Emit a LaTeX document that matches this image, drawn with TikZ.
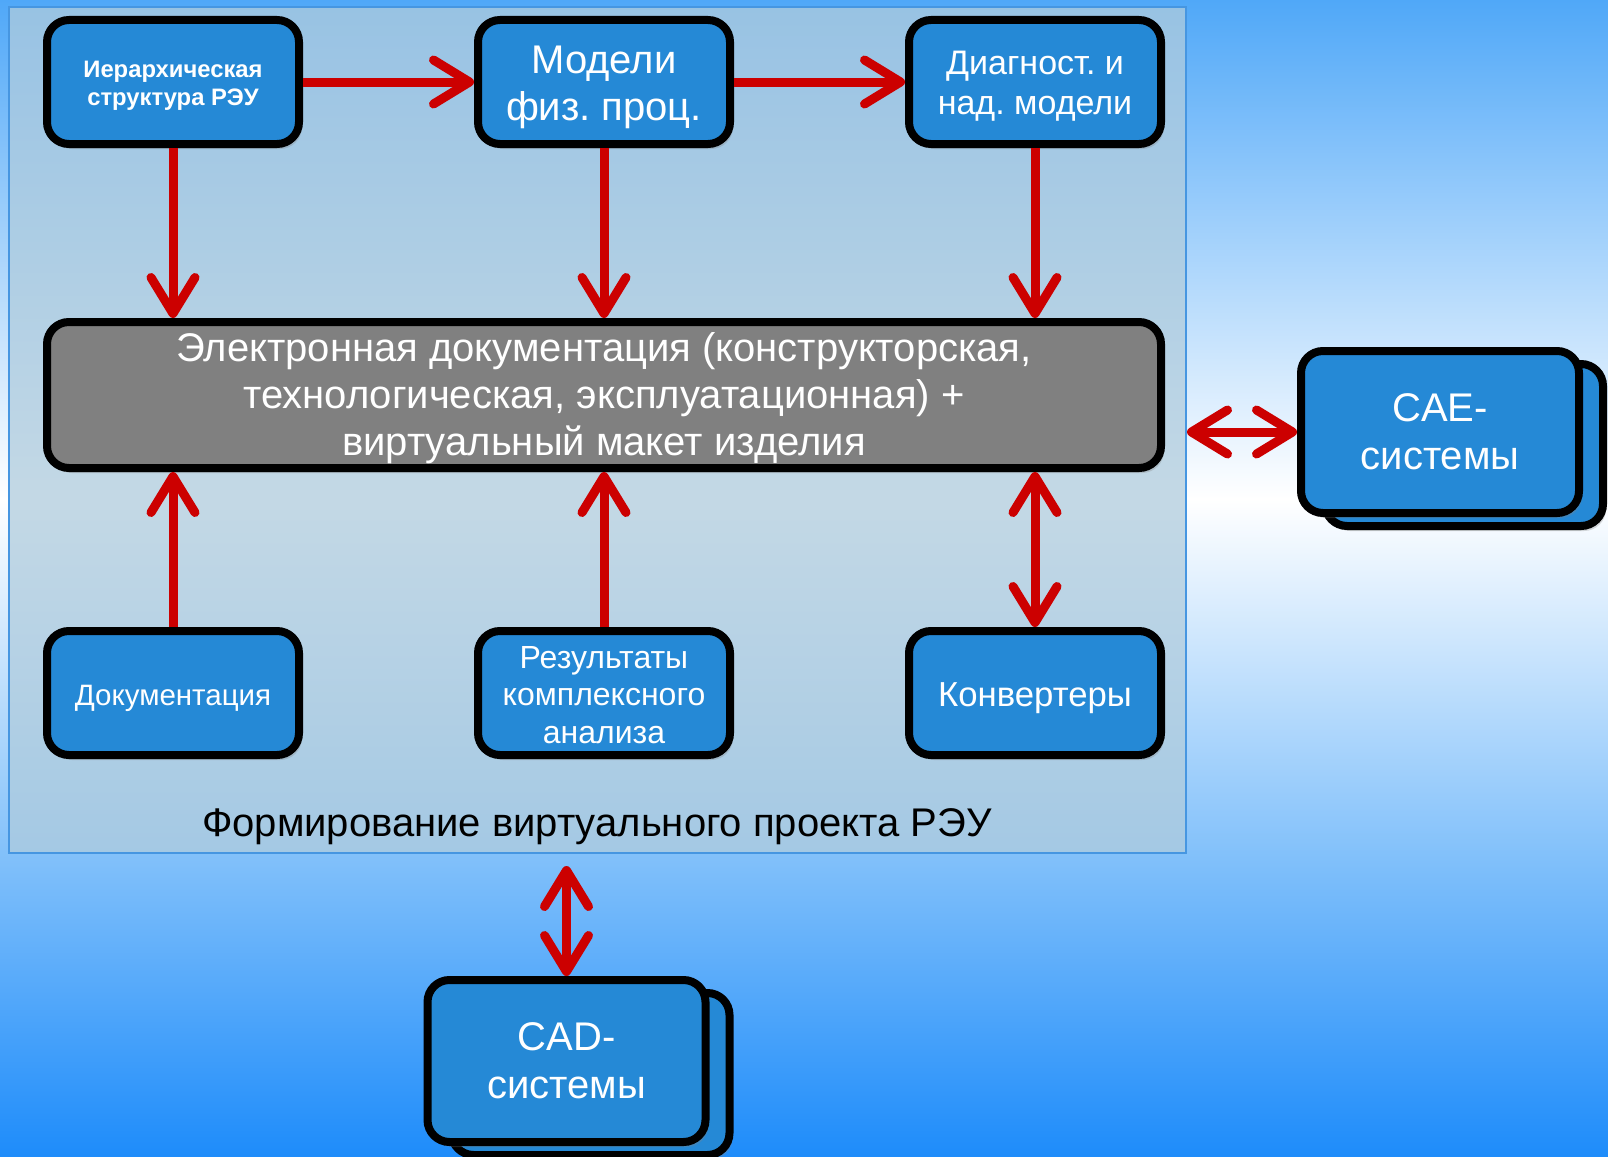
\documentclass[tikz,border=0pt]{standalone}
\usepackage{fontspec}
\setmainfont{Liberation Sans}
\frenchspacing
\usetikzlibrary{arrows.meta,shadows}
\definecolor{boxblue}{RGB}{37,137,214}
\definecolor{arrred}{RGB}{204,0,0}
\definecolor{panelfill}{RGB}{176,204,221}
\definecolor{panelline}{RGB}{70,150,225}
\definecolor{bgtop}{RGB}{80,168,248}
\definecolor{bglow}{RGB}{125,190,250}
\definecolor{bgbot}{RGB}{30,140,250}
\definecolor{docgray}{RGB}{128,128,128}
\pgfdeclareverticalshading{bgshade}{100bp}{color(0bp)=(bgbot); color(25bp)=(bgbot); color(37.4bp)=(bglow); color(53.4bp)=(white); color(75bp)=(bgtop); color(100bp)=(bgtop)}
\tikzset{
  box/.style={draw=black, line width=8pt, rounded corners=22pt, fill=boxblue, text=white,
    align=center, minimum width=252pt, minimum height=124pt, inner sep=0pt,
    drop shadow={shadow xshift=3pt, shadow yshift=-5pt, opacity=0.3}},
  boxtext/.style={text=white, align=center, inner sep=0pt},
  bigbox/.style={box, minimum width=278pt, minimum height=162pt, font=\fontsize{40}{48}\selectfont},
  arr/.style={draw=arrred, line width=9pt, -{Straight Barb[length=36pt,width=44pt,round]}},
  darr/.style={draw=arrred, line width=9pt, {Straight Barb[length=36pt,width=44pt,round]}-{Straight Barb[length=36pt,width=44pt,round]}},
}
\begin{document}
\begin{tikzpicture}[x=1pt,y=-1pt]
\useasboundingbox (0,0) rectangle (1608,1156);
\shade[shading=bgshade] (0,0) rectangle (1608,1156);
% panel
\node[draw=panelline, line width=2pt, fill=panelfill, fill opacity=0.75, minimum width=1177pt, minimum height=846pt, inner sep=0pt] (panel) at (597.5,430) {};
\node[font=\fontsize{40}{47}\selectfont, text=black, inner sep=0pt] (cap) at (597,827) {Формирование виртуального проекта РЭУ};
% top row
\node[box] (b1) at (173,82) {};
\node[boxtext, font=\bfseries\fontsize{23.8}{28}\selectfont] (t1) at (173,86) {Иерархическая\\структура РЭУ};
\node[box] (b2) at (604,82) {};
\node[boxtext, font=\fontsize{40}{47}\selectfont] (t2) at (604,87) {Модели\\физ. проц.};
\node[box] (b3) at (1035,82) {};
\node[boxtext, font=\fontsize{34}{40}\selectfont] (t3) at (1035,86.5) {Диагност. и\\над. модели};
% central doc
\node[box, fill=docgray, minimum width=1114pt, minimum height=146pt] (edoc) at (604,395) {};
\node[boxtext, font=\fontsize{40}{47}\selectfont] (tdoc) at (604,398) {Электронная документация (конструкторская,\\технологическая, эксплуатационная) +\\виртуальный макет изделия};
% bottom row
\node[box] (d1) at (173,693) {};
\node[boxtext, font=\fontsize{29.5}{36}\selectfont] (s1) at (173,698) {Документация};
\node[box] (d2) at (604,693) {};
\node[boxtext, font=\fontsize{32}{37.5}\selectfont] (s2) at (604,695) {Результаты\\комплексного\\анализа};
\node[box] (d3) at (1035,693) {};
\node[boxtext, font=\fontsize{34.7}{40}\selectfont] (s3) at (1035,698) {Конвертеры};
% CAE
\node[bigbox] (caeback) at (1464,445) {};
\node[bigbox] (cae) at (1440,432) {CAE-\\системы};
% CAD
\node[bigbox] (cadback) at (590.5,1074) {};
\node[bigbox] (cad) at (566.5,1061) {CAD-\\системы};
% arrows
\draw[arr] (b1.east) -- (b2.west);
\draw[arr] (b2.east) -- (b3.west);
\draw[arr] (b1.south) -- (edoc.north -| b1.south);
\draw[arr] (b2.south) -- (edoc.north -| b2.south);
\draw[arr] (b3.south) -- (edoc.north -| b3.south);
\draw[arr] (d1.north) -- (edoc.south -| d1.north);
\draw[arr] (d2.north) -- (edoc.south -| d2.north);
\draw[darr] (edoc.south -| d3.north) -- (d3.north);
\draw[darr] (panel.east |- cae.west) -- (cae.west);
\draw[darr] ([yshift=-12pt]panel.south -| cad.north) -- (cad.north);
\end{tikzpicture}
\end{document}
